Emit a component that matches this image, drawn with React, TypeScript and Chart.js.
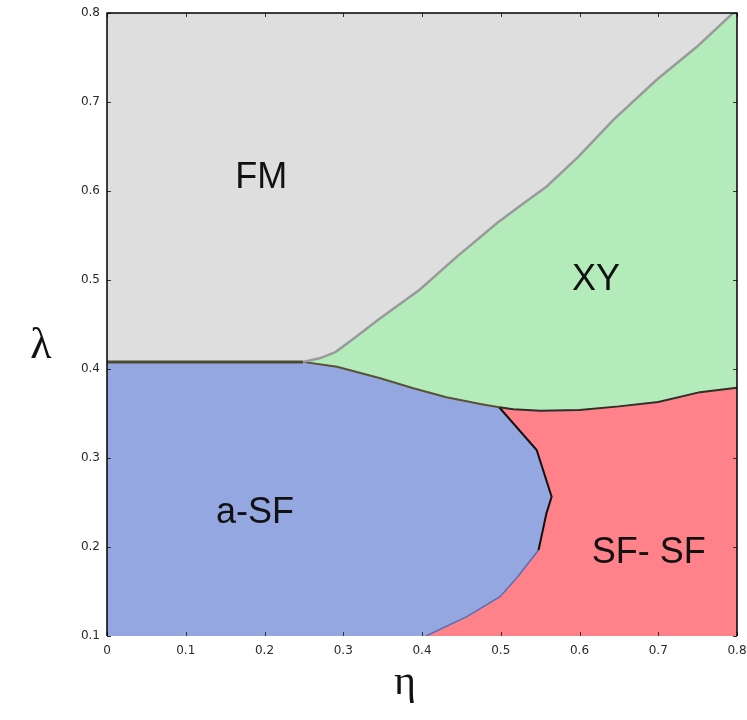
import React, { useEffect, useRef } from "react";
import { Chart, registerables } from "chart.js";

Chart.register(...registerables);

// Axis ticks
const xTickLabels = ["0", "0.1", "0.2", "0.3", "0.4", "0.5", "0.6", "0.7", "0.8"];
const yTickLabels = ["0.1", "0.2", "0.3", "0.4", "0.5", "0.6", "0.7", "0.8"];

// FM / XY boundary
const fmXyEta = [0.249, 0.27, 0.29, 0.31, 0.347, 0.397, 0.444, 0.495, 0.529, 0.558, 0.598, 0.643, 0.698, 0.749, 0.795];
const fmXyLam = [0.408, 0.412, 0.419, 0.432, 0.457, 0.489, 0.526, 0.5637, 0.5862, 0.6048, 0.638, 0.68, 0.725, 0.762, 0.8];

// FM / a-SF boundary (horizontal)
const fmSfEta = [0, 0.249];
const fmSfLam = [0.408, 0.408];

// a-SF / XY boundary
const sfXyEta = [0.249, 0.292, 0.304, 0.347, 0.389, 0.431, 0.474, 0.498];
const sfXyLam = [0.408, 0.4026, 0.3997, 0.3896, 0.3783, 0.3682, 0.3607, 0.357];

// SF-SF / XY boundary
const ssXyEta = [0.498, 0.516, 0.55, 0.6, 0.65, 0.7, 0.753, 0.8];
const ssXyLam = [0.357, 0.3547, 0.3531, 0.354, 0.358, 0.363, 0.374, 0.379];

// a-SF / SF-SF boundary
const sfSsEta = [0.498, 0.5456, 0.5646, 0.558, 0.548, 0.52, 0.499, 0.457, 0.405];
const sfSsLam = [0.357, 0.309, 0.2565, 0.2378, 0.1966, 0.165, 0.1442, 0.1217, 0.1];

// Region labels
const regionNames = ["FM", "XY", "a-SF", "SF- SF"];
const regionEta = [0.196, 0.621, 0.188, 0.688];
const regionLam = [0.6034, 0.4888, 0.227, 0.182];

const zip = (xs: number[], ys: number[]) => xs.map((x, i) => ({ x, y: ys[i] }));

export default function App() {
  const ref = useRef<HTMLCanvasElement | null>(null);

  useEffect(() => {
    if (!ref.current) return;

    const fmXy = zip(fmXyEta, fmXyLam);
    const fmSf = zip(fmSfEta, fmSfLam);
    const sfXy = zip(sfXyEta, sfXyLam);
    const ssXy = zip(ssXyEta, ssXyLam);
    const sfSs = zip(sfSsEta, sfSsLam);

    const bluePoly = [{ x: 0, y: 0.1 }, { x: 0, y: fmSfLam[0] }, ...sfXy, ...sfSs.slice(1), { x: 0, y: 0.1 }];
    const redPoly = [...sfSs.slice().reverse(), ...ssXy.slice(1), { x: 0.8, y: 0.1 }, sfSs[sfSs.length - 1]];
    const greenPoly = [
      ...fmXy,
      { x: 0.8, y: 0.8 },
      ...ssXy.slice().reverse(),
      ...sfXy.slice().reverse().slice(1),
    ];

    const poly = (data: any[], color: string) => ({
      data,
      fill: "shape",
      backgroundColor: color,
      borderColor: color,
      borderWidth: 1,
      pointRadius: 0,
      tension: 0,
      order: 10,
    });
    const line = (data: any[], color: string, width: number) => ({
      data,
      fill: false,
      borderColor: color,
      borderWidth: width,
      pointRadius: 0,
      tension: 0,
      order: 1,
    });

    const bgPlugin = {
      id: "bg",
      beforeDatasetsDraw(chart: any) {
        const { ctx, chartArea: a } = chart;
        ctx.save();
        ctx.fillStyle = "#dedede";
        ctx.fillRect(a.left, a.top, a.right - a.left, a.bottom - a.top);
        ctx.restore();
      },
    };

    const overlayPlugin = {
      id: "overlay",
      afterDatasetsDraw(chart: any) {
        const { ctx, chartArea: a, scales } = chart;
        const xs = scales.x;
        const ys = scales.y;
        ctx.save();
        // inward tick marks
        ctx.strokeStyle = "#333";
        ctx.lineWidth = 1;
        xs.ticks.forEach((t: any) => {
          const px = Math.round(xs.getPixelForValue(t.value)) + 0.5;
          ctx.beginPath();
          ctx.moveTo(px, a.bottom);
          ctx.lineTo(px, a.bottom - 4);
          ctx.moveTo(px, a.top);
          ctx.lineTo(px, a.top + 4);
          ctx.stroke();
        });
        ys.ticks.forEach((t: any) => {
          const py = Math.round(ys.getPixelForValue(t.value)) + 0.5;
          ctx.beginPath();
          ctx.moveTo(a.left, py);
          ctx.lineTo(a.left + 4, py);
          ctx.moveTo(a.right, py);
          ctx.lineTo(a.right - 4, py);
          ctx.stroke();
        });
        // frame (left, top, right)
        ctx.strokeStyle = "#000";
        ctx.lineWidth = 1.5;
        ctx.beginPath();
        ctx.moveTo(a.left, a.bottom);
        ctx.lineTo(a.left, a.top);
        ctx.lineTo(a.right, a.top);
        ctx.lineTo(a.right, a.bottom);
        ctx.stroke();
        // region labels
        ctx.fillStyle = "#111";
        ctx.font = "36px 'Liberation Sans', Arial, sans-serif";
        ctx.textAlign = "center";
        ctx.textBaseline = "alphabetic";
        regionNames.forEach((n, i) => {
          ctx.fillText(n, xs.getPixelForValue(regionEta[i]), ys.getPixelForValue(regionLam[i]));
        });
        // axis titles
        ctx.font = "44px 'Liberation Serif', 'DejaVu Serif', serif";
        ctx.fillText("λ", 41, 358);
        ctx.font = "42px 'Liberation Serif', 'DejaVu Serif', serif";
        ctx.fillText("η", 405, 694);
        ctx.restore();
      },
    };

    const chart = new Chart(ref.current, {
      type: "line",
      data: {
        datasets: [
          poly(bluePoly, "#94a7e0"),
          poly(redPoly, "#ff8189"),
          poly(greenPoly, "#b3ecba"),
          line(fmXy, "#9a9a9a", 2.5),
          line(fmSf, "#4b4a34", 3),
          line(sfXy, "#5a5236", 2),
          line(ssXy, "#2e2e2a", 2),
          line(sfSs.slice(0, 5), "#111111", 2),
          line(sfSs.slice(4), "#5a6fae", 1.5),
        ] as any,
      },
      options: {
        animation: false,
        responsive: true,
        maintainAspectRatio: false,
        layout: { padding: { top: 13, right: 10, left: 0, bottom: 0 } },
        plugins: { legend: { display: false }, tooltip: { enabled: false } },
        scales: {
          x: {
            type: "linear",
            min: 0,
            max: 0.8,
            grid: { display: false, drawTicks: false },
            border: { display: false },
            ticks: {
              stepSize: 0.1,
              padding: 8,
              color: "#2a2a2a",
              font: { family: "'DejaVu Sans'", size: 12 },
              callback: (_v: any, i: number) => xTickLabels[i],
              maxRotation: 0,
            },
            afterFit: (s: any) => {
              s.height = 84;
              s.paddingLeft = 0;
              s.paddingRight = 0;
            },
          },
          y: {
            type: "linear",
            min: 0.1,
            max: 0.8,
            grid: { display: false, drawTicks: false },
            border: { display: false },
            ticks: {
              stepSize: 0.1,
              padding: 7,
              color: "#2a2a2a",
              font: { family: "'DejaVu Sans'", size: 12 },
              callback: (_v: any, i: number) => yTickLabels[i],
            },
            afterFit: (s: any) => {
              s.width = 107;
              s.paddingTop = 0;
              s.paddingBottom = 0;
            },
          },
        },
      },
      plugins: [bgPlugin, overlayPlugin],
    } as any);

    return () => chart.destroy();
  }, []);

  return (
    <div style={{ position: "absolute", left: 0, top: 0, width: 747, height: 720, background: "#fff" }}>
      <canvas ref={ref} />
    </div>
  );
}
